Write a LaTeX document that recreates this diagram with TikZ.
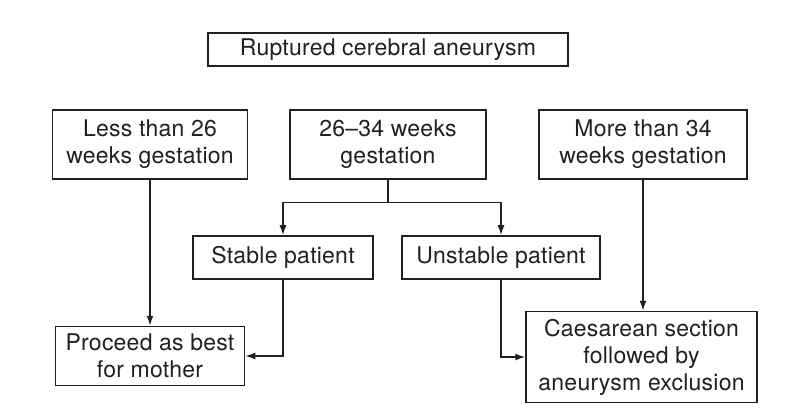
\documentclass[tikz,border=0pt]{standalone}
\usepackage{fontspec}
\setmainfont{TeX Gyre Heros}[LetterSpace=1]
\usetikzlibrary{arrows.meta}
\definecolor{ink}{HTML}{231F20}
\begin{document}
\begin{tikzpicture}[x=1pt,y=-1pt,
  box/.style={draw=ink, line width=1.5pt, inner sep=0pt, align=center, text=ink,
    font=\fontsize{23}{27}\selectfont},
  conn/.style={draw=ink, line width=1.5pt},
  arr/.style={conn, -{Latex[length=10pt,width=7pt]}}]
\useasboundingbox (0,0) rectangle (795,414);
\fill[white] (0,0) rectangle (795,414);
\node[box, minimum width=360pt, minimum height=33pt] (top) at (388,49.5) {Ruptured cerebral aneurysm};
\node[box, minimum width=195pt, minimum height=69pt] (lt) at (150,144.5) {Less than 26\\weeks gestation};
\node[box, minimum width=196pt, minimum height=69pt] (mid) at (388,144.5) {26–34 weeks\\gestation};
\node[box, minimum width=208pt, minimum height=69pt] (gt) at (643,144.5) {More than 34\\weeks gestation};
\node[box, minimum width=180pt, minimum height=43pt] (stable) at (283,257.5) {Stable patient};
\node[box, minimum width=198pt, minimum height=43pt] (unstable) at (501,257.5) {Unstable patient};
\node[box, minimum width=189pt, minimum height=59pt] (proceed) at (150,356) {Proceed as best\\for mother};
\node[box, minimum width=231pt, minimum height=91pt] (caes) at (641.5,357) {Caesarean section\\followed by\\aneurysm exclusion};
\coordinate (split) at ([yshift=-23pt]mid.south);
\draw[conn] (mid.south) -- (split);
\draw[arr] (split) -| (stable.north);
\draw[arr] (split) -| (unstable.north);
\draw[arr] (lt.south) -- (proceed.north);
\draw[arr] (gt.south) -- (gt.south |- caes.north);
\draw[arr] (stable.south) |- (proceed.east);
\draw[arr] (unstable.south) |- (caes.west);
\end{tikzpicture}
\end{document}
